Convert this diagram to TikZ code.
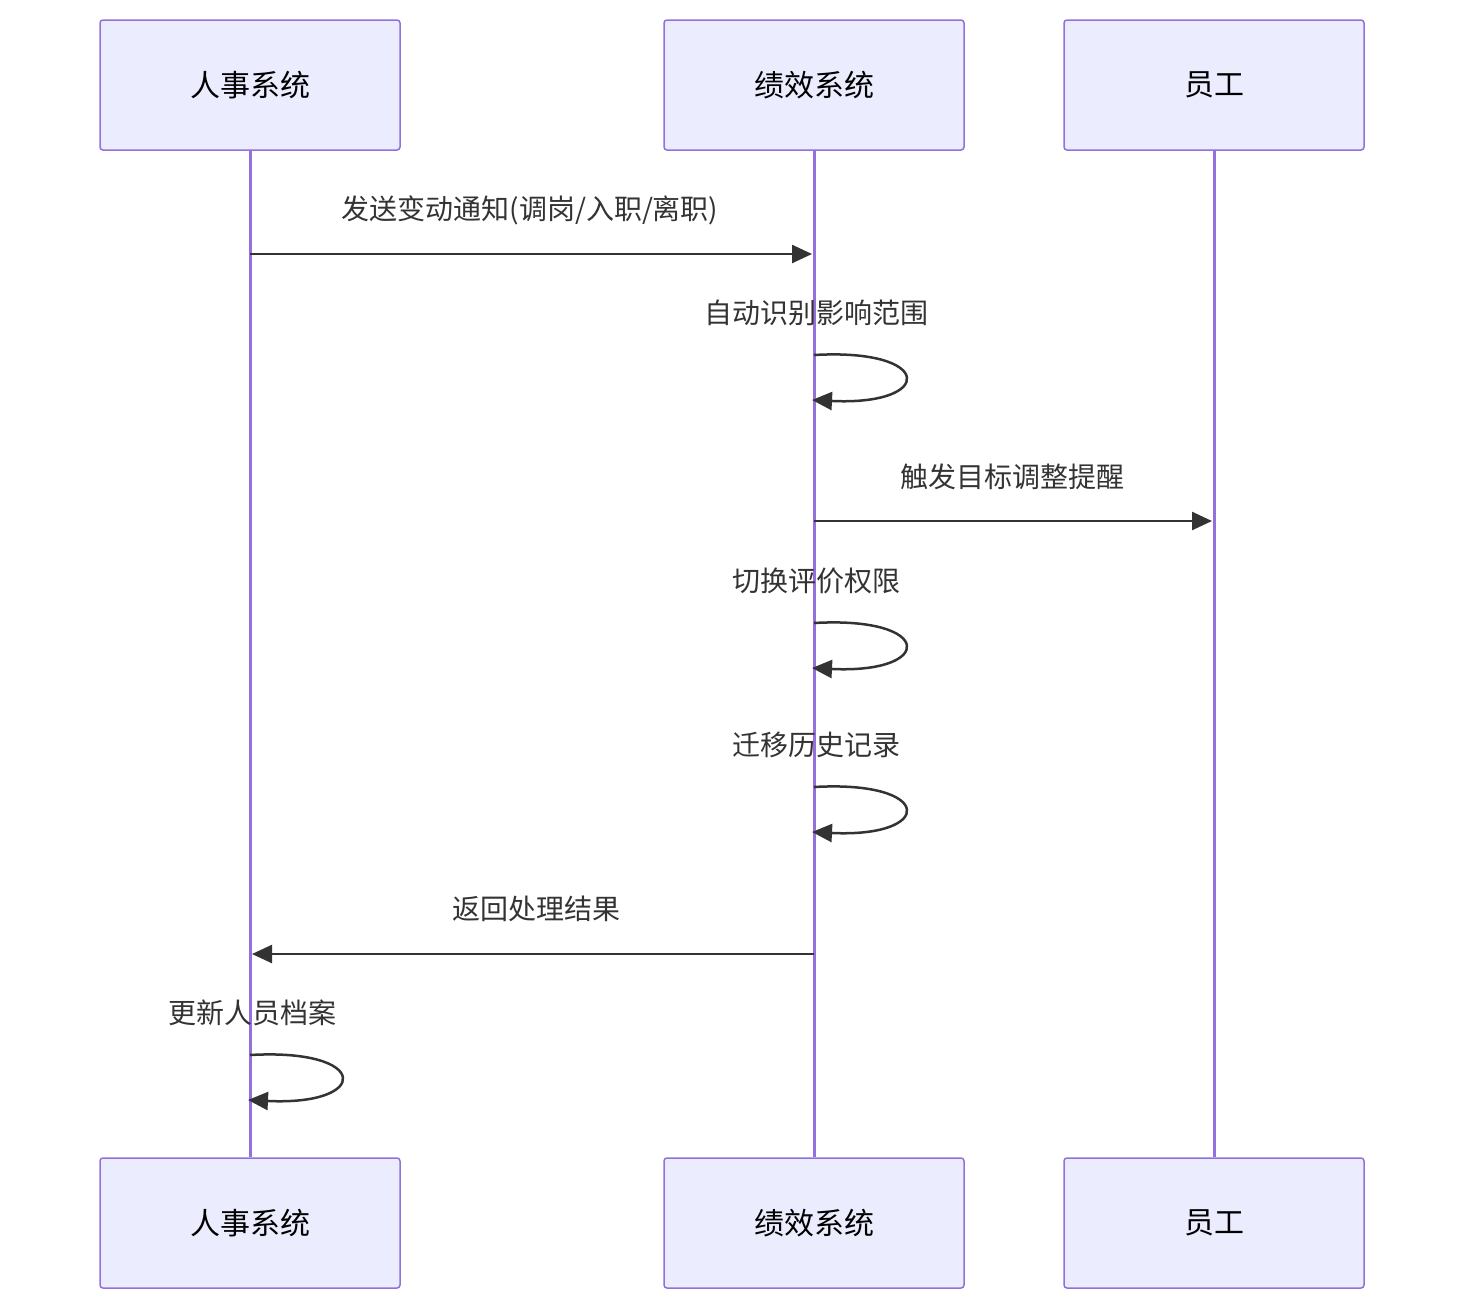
\documentclass[tikz,border=0pt]{standalone}
\usepackage{fontspec}
\setmainfont{Noto Sans CJK SC}
\usetikzlibrary{arrows.meta}
\definecolor{boxfill}{HTML}{ECECFF}
\definecolor{boxline}{HTML}{9370DB}
\definecolor{ink}{HTML}{333333}
\begin{document}
\begin{tikzpicture}[x=1pt,y=-1pt,
  actor/.style={draw=boxline,fill=boxfill,line width=1.5pt,rounded corners=3pt,minimum width=300pt,minimum height=130pt,font=\fontsize{30}{34}\selectfont,text=black},
  life/.style={draw=boxline,line width=3pt},
  msg/.style={draw=ink,line width=2.5pt,-{Triangle[length=20pt,width=18pt]}},
  lbl/.style={font=\fontsize{28}{32}\selectfont,text=ink},
  self/.style={draw=ink,line width=2.5pt,-{Triangle[length=20pt,width=18pt]}}]
\useasboundingbox (0,0) rectangle (1464,1310);
\node[actor] (a1) at (250,85) {人事系统};
\node[actor] (b1) at (814,85) {绩效系统};
\node[actor] (c1) at (1214,85) {员工};
\node[actor] (a2) at (250,1223) {人事系统};
\node[actor] (b2) at (814,1223) {绩效系统};
\node[actor] (c2) at (1214,1223) {员工};
\draw[life] (a1.south) -- (a2.north);
\draw[life] (b1.south) -- (b2.north);
\draw[life] (c1.south) -- (c2.north);
% 1
\coordinate (m1s) at (250,254); \coordinate (m1e) at (812,254);
\node[lbl] (t1) at (530,210) {发送变动通知(调岗/入职/离职)};
\draw[msg] (m1s) -- (m1e);
% 2
\node[lbl] (t2) at (816,313) {自动识别影响范围};
\coordinate (s2a) at (814,355); \coordinate (s2b) at (812,400);
\draw[self] (s2a) .. controls (935,348) and (935,406) .. (s2b);
% 3
\node[lbl] (t3) at (1012,477) {触发目标调整提醒};
\coordinate (m3s) at (814,521); \coordinate (m3e) at (1212,521);
\draw[msg] (m3s) -- (m3e);
% 4
\node[lbl] (t4) at (816,581) {切换评价权限};
\coordinate (s4a) at (814,623); \coordinate (s4b) at (812,668);
\draw[self] (s4a) .. controls (935,616) and (935,674) .. (s4b);
% 5
\node[lbl] (t5) at (816,745) {迁移历史记录};
\coordinate (s5a) at (814,787); \coordinate (s5b) at (812,832);
\draw[self] (s5a) .. controls (935,780) and (935,838) .. (s5b);
% 6
\node[lbl] (t6) at (536,909) {返回处理结果};
\coordinate (m6s) at (814,954); \coordinate (m6e) at (252,954);
\draw[msg] (m6s) -- (m6e);
% 7
\node[lbl] (t7) at (252,1013) {更新人员档案};
\coordinate (s7a) at (250,1055); \coordinate (s7b) at (248,1100);
\draw[self] (s7a) .. controls (371,1048) and (371,1106) .. (s7b);
\end{tikzpicture}
\end{document}
